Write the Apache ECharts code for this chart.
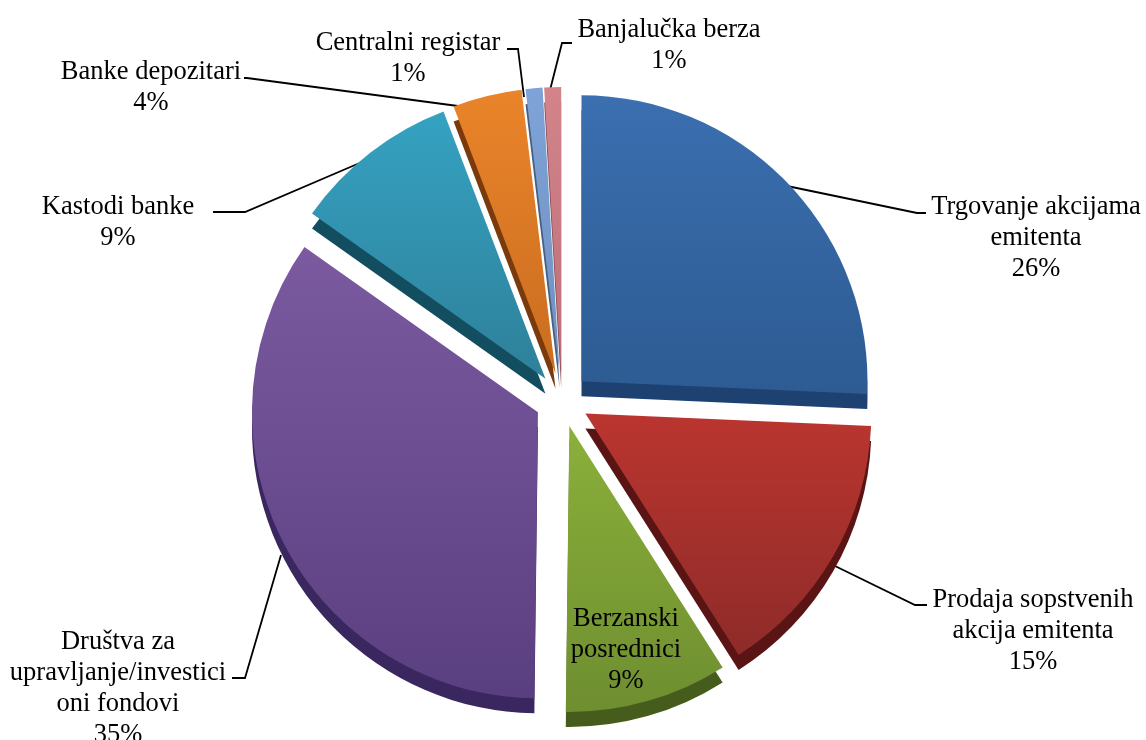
<!DOCTYPE html>
<html>
<head>
<meta charset="utf-8">
<style>
  html, body { margin: 0; padding: 0; background: #fff; }
  #chart { width: 1146px; height: 740px; }
</style>
<script src="https://cdn.jsdelivr.net/npm/echarts@6/dist/echarts.min.js"></script>
</head>
<body>
<div id="chart"></div>
<script>
// podaci
const categories = [
  'Trgovanje akcijama\nemitenta',
  'Prodaja sopstvenih\nakcija emitenta',
  'Berzanski\nposrednici',
  'Društva za\nupravljanje/investici\noni fondovi',
  'Kastodi banke',
  'Banke depozitari',
  'Centralni registar',
  'Banjalučka berza'
];
const shares = [25.7, 15.3, 9.2, 34.6, 9.4, 3.9, 0.95, 0.95];

// boje: gornja strana (svijetla, tamna) i bocna strana
const topLight = ['#3b6fb0', '#bb352f', '#8bb03a', '#7b5aa0', '#35a2c2', '#ea842a', '#7fa3d8', '#d3848b'];
const topDark = ['#2d5b92', '#8e2b29', '#6e8e30', '#5a3f80', '#2e8099', '#c96d20', '#6f90c0', '#bc6f77'];
const sideColors = ['#1d4272', '#5a1414', '#465c1c', '#3b2760', '#134e60', '#7a3a0c', '#4a5f80', '#8a5055'];

// polozaj natpisa i linije
const labelSpots = [
  { x: 1036, y: 238, line: [[787, 186], [917, 213], [926, 213]] },
  { x: 1033, y: 631, line: [[835, 566], [915, 605], [927, 605]] },
  { x: 626, y: 650 },
  { x: 118, y: 689, line: [[281, 555], [245, 678], [232, 678]] },
  { x: 118, y: 223, line: [[362, 162], [245, 212], [213, 212]] },
  { x: 151, y: 88, line: [[473, 108], [247, 78], [244, 78]] },
  { x: 408, y: 59, line: [[524, 97], [518, 49], [507, 49]] },
  { x: 669, y: 46, line: [[548, 98], [562, 43], [572, 43]] }
];

const chart = echarts.init(document.getElementById('chart'));

function pieData(fill, selected) {
  return categories.map((name, i) => ({
    name: name,
    value: shares[i],
    selected: selected,
    itemStyle: { color: fill(i) },
    labelLine: { show: !!labelSpots[i].line }
  }));
}

const base = {
  type: 'pie',
  radius: 286,
  startAngle: 90,
  clockwise: true,
  selectedMode: 'multiple',
  selectedOffset: 27,
  percentPrecision: 0,
  avoidLabelOverlap: false,
  animation: false,
  silent: true,
  emphasis: { disabled: true }
};

chart.setOption({
  backgroundColor: '#fff',
  animation: false,
  series: [
    // bocna strana
    Object.assign({}, base, {
      center: [562, 415],
      label: { show: false },
      labelLine: { show: false },
      data: pieData(i => sideColors[i], true)
    }),
    // gornja strana
    Object.assign({}, base, {
      center: [562, 400],
      label: { show: false },
      labelLine: { show: false },
      data: pieData(i => new echarts.graphic.LinearGradient(0, 0, 0, 1, [
        { offset: 0, color: topLight[i] },
        { offset: 1, color: topDark[i] }
      ]), true)
    }),
    // natpisi, bez pomjeranja isjecaka
    Object.assign({}, base, {
      center: [562, 400],
      label: {
        show: true,
        formatter: '{b}\n{d}%',
        fontFamily: '"Liberation Serif", "Times New Roman", serif',
        fontSize: 26.5,
        lineHeight: 31,
        color: '#000',
        align: 'center'
      },
      labelLine: { show: true, lineStyle: { color: '#000', width: 1.8 } },
      labelLayout: function (params) {
        const s = labelSpots[params.dataIndex];
        return {
          x: s.x,
          y: s.y,
          align: 'center',
          verticalAlign: 'middle',
          labelLinePoints: s.line
        };
      },
      data: pieData(() => 'transparent', false)
    })
  ]
});
</script>
</body>
</html>
